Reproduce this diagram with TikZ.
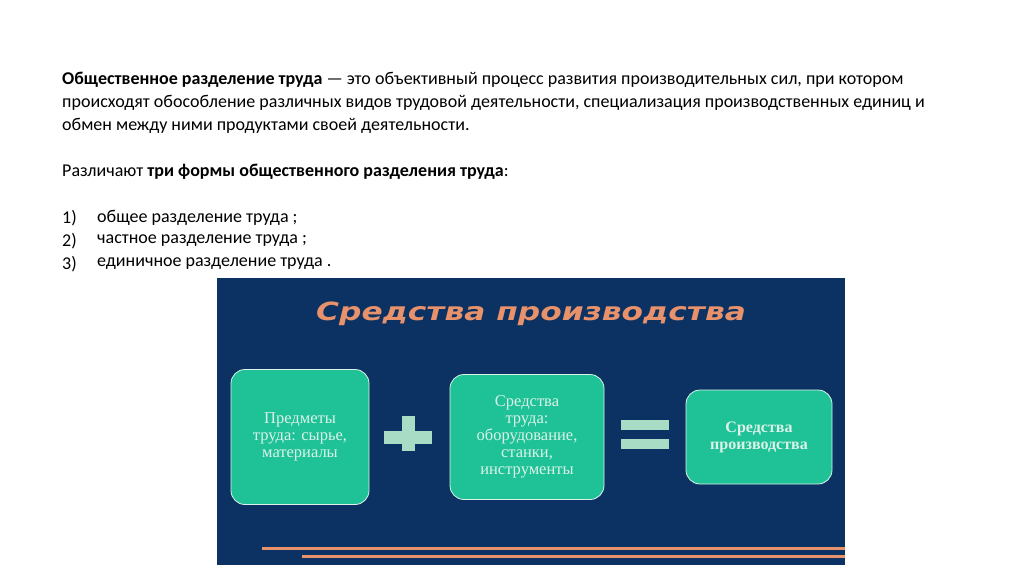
\documentclass[tikz,border=0pt]{standalone}
\usepackage{fontspec}
\setmainfont{Carlito}
\newfontfamily\titlefont{DejaVu Sans}
\newfontfamily\boxfont{Liberation Serif}
\usetikzlibrary{positioning}
\definecolor{panelblue}{HTML}{0B3262}
\definecolor{boxgreen}{HTML}{1EC296}
\definecolor{signgreen}{HTML}{A8DCC4}
\definecolor{titleorange}{HTML}{E8926C}
\definecolor{boxtext}{HTML}{DDF2EA}

\begin{document}
\begin{tikzpicture}[x=1pt,y=-1pt,
    line/.style={anchor=west,inner sep=0pt,font=\fontsize{18}{20}\selectfont},
    greenbox/.style={draw=boxtext,line width=0.8pt,fill=boxgreen,rounded corners=14pt,
        text=boxtext,align=center,font=\boxfont\fontsize{16.5}{17}\selectfont},
    sign/.style={fill=signgreen,draw=none}]
    \useasboundingbox (0,0) rectangle (1024,576);

    \node[line] (t1) at (62,80) {\textbf{Общественное разделение труда} — это объективный процесс развития производительных сил, при котором};
    \node[line] (t2) at (62,103) {происходят обособление различных видов трудовой деятельности, специализация производственных единиц и};
    \node[line] (t3) at (62,126) {обмен между ними продуктами своей деятельности.};
    \node[line] (t4) at (62,172) {Различают \textbf{три формы общественного разделения труда}:};
    \node[line] (n1) at (62,218) {1)};
    \node[line] (i1) at (97,218) {общее разделение труда ;};
    \node[line] (n2) at (62,241) {2)};
    \node[line] (i2) at (97,241) {частное разделение труда ;};
    \node[line] (n3) at (62,264) {3)};
    \node[line] (i3) at (97,264) {единичное разделение труда .};

    % panel
    \fill[panelblue] (217,278) rectangle (845,565);
    \node[text=titleorange,xscale=1.25,font=\titlefont\bfseries\itshape\fontsize{25}{25}\selectfont] (title) at (531,314) {Средства производства};

    \node[greenbox,minimum width=138pt,minimum height=135pt] (b1) at (300,437) {Предметы\\труда: сырье,\\материалы};
    \node[greenbox,minimum width=154pt,minimum height=125pt] (b2) at (527,437) {Средства\\труда:\\оборудование,\\станки,\\инструменты};
    \node[greenbox,minimum width=146pt,minimum height=94pt,font=\boxfont\bfseries\fontsize{16}{17}\selectfont] (b3) at (759,437) {Средства\\производства};

    \fill[sign] (384,431) rectangle (432,444);
    \fill[sign] (402,416) rectangle (415,451);
    \fill[sign] (621,420) rectangle (669,430);
    \fill[sign] (621,439) rectangle (669,449);

    \draw[titleorange,line width=3pt] (262,548) -- (845,548);
    \draw[titleorange,line width=3pt] (302,556) -- (845,556);
\end{tikzpicture}
\end{document}
